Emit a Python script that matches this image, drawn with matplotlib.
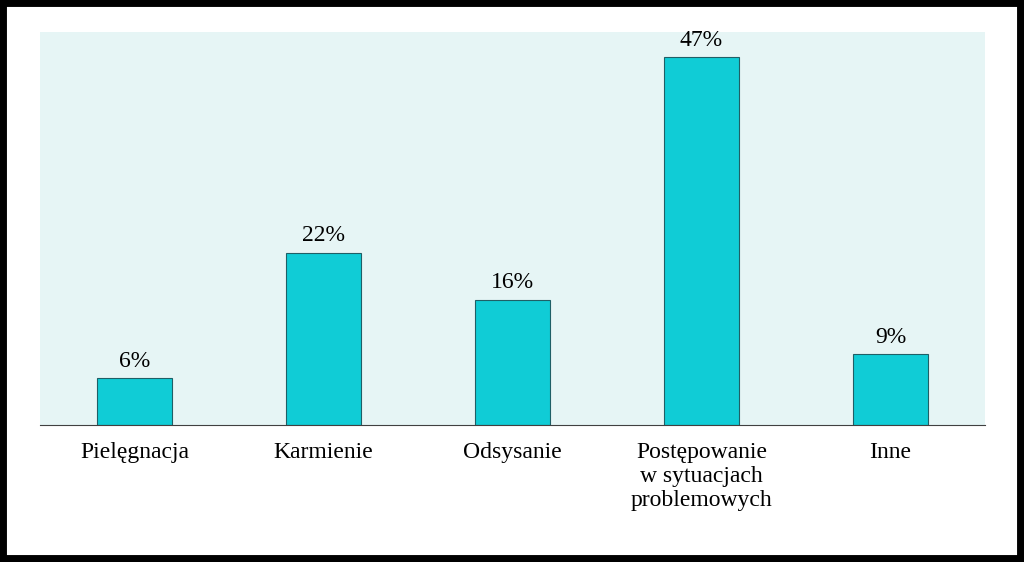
import matplotlib
matplotlib.use('Agg')
import matplotlib.pyplot as plt
from matplotlib.patches import Rectangle

categories = ['Pielęgnacja', 'Karmienie', 'Odsysanie',
              'Postępowanie\nw sytuacjach\nproblemowych', 'Inne']
values = [6, 22, 16, 47, 9]

plt.rcParams['font.family'] = ['Liberation Serif', 'DejaVu Serif']

fig = plt.figure(figsize=(10.24, 5.62), dpi=100)
ax = fig.add_axes([0.039, 0.244, 0.923, 0.699])
ax.set_facecolor('#e6f5f5')

x = range(len(categories))
bars = ax.bar(x, values, width=0.4, color='#10ccd6', edgecolor='#1f5f66', linewidth=0.8)
for b, v in zip(bars, values):
    ax.text(b.get_x() + b.get_width() / 2, v + 0.8, f'{v}%',
            ha='center', va='bottom', fontsize=17)

ax.set_xlim(-0.5, 4.5)
ax.set_ylim(0, 50.2)
ax.set_xticks(list(x))
ax.set_xticklabels(categories, fontsize=17, va='top', linespacing=1.2)
ax.tick_params(axis='x', length=0, pad=12)
ax.set_yticks([])
for s in ['top', 'right', 'left']:
    ax.spines[s].set_visible(False)
ax.spines['bottom'].set_color('#404040')

fig.patches.append(Rectangle((0, 0), 1, 1, transform=fig.transFigure,
                             fill=False, edgecolor='black', linewidth=10))

fig.savefig('out.png', dpi=100)
